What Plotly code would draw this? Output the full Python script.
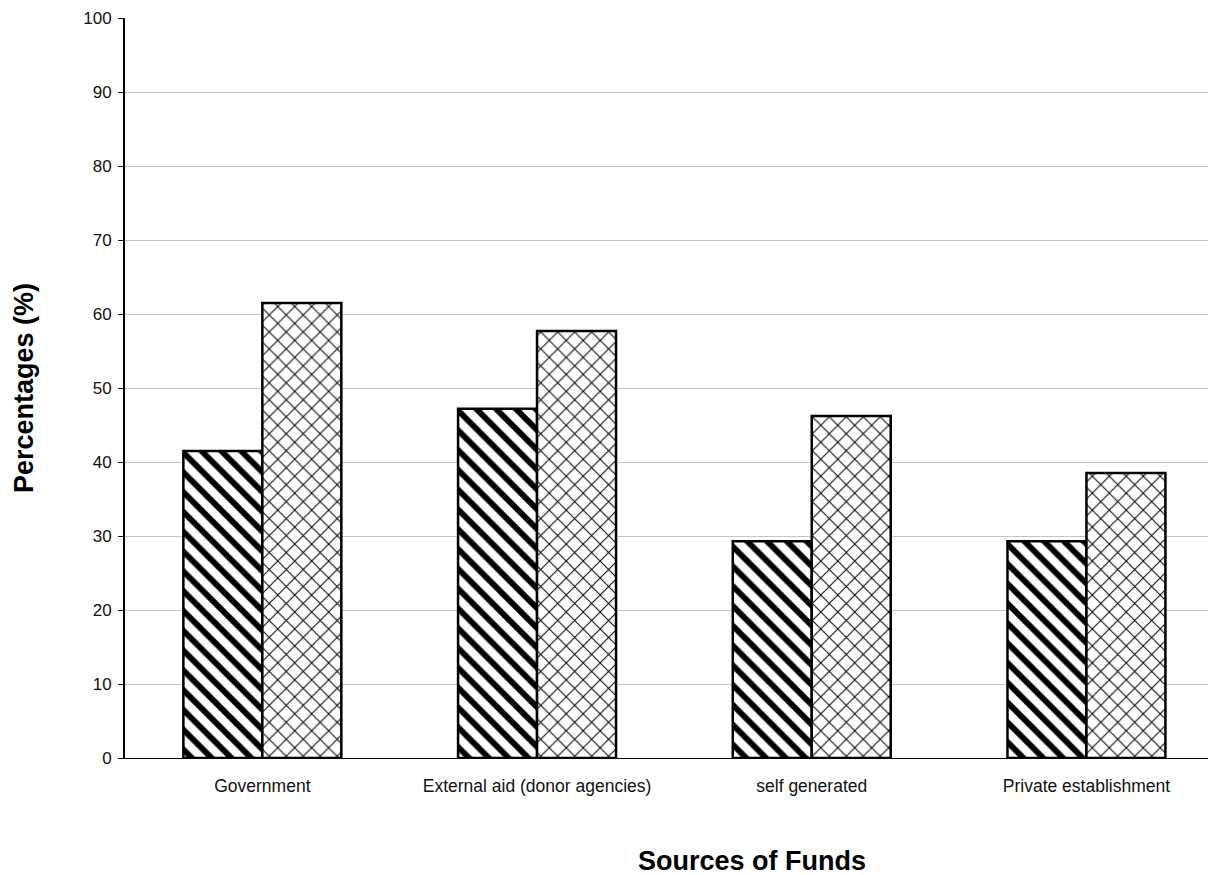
import plotly.graph_objects as go

categories = ["Government", "External aid (donor agencies)", "self generated", "Private establishment"]
series_a = [41.5, 47.2, 29.3, 29.3]
series_b = [61.5, 57.7, 46.2, 38.5]
y_ticks = list(range(0, 101, 10))

# page body has an 8px margin, so the figure is sized to end at the window edge
W, H = 1208, 867
ML, MR, MT = 117, 0, 10
plot_h = 740.0
MB = H - MT - plot_h
plot_w = W - ML - MR
cat_px = 274.7

fig = go.Figure()
fig.add_trace(go.Bar(
    x=categories, y=series_a, name="A",
    marker=dict(color="white", line=dict(color="black", width=2.5),
                pattern=dict(shape="\\", fgcolor="black", fgopacity=1, bgcolor="white",
                             size=14, solidity=0.42)),
))
fig.add_trace(go.Bar(
    x=categories, y=series_b, name="B",
    marker=dict(color="white", line=dict(color="black", width=2.5),
                pattern=dict(shape="x", fgcolor="black", fgopacity=1, bgcolor="white",
                             size=12, solidity=0.16)),
))

font_family = "Liberation Sans, Arial, sans-serif"

fig.update_layout(
    width=W, height=H,
    margin=dict(l=ML, r=MR, t=MT, b=MB),
    paper_bgcolor="white", plot_bgcolor="white",
    barmode="group", bargap=0.425, bargroupgap=0,
    showlegend=False,
    font=dict(family=font_family, size=17, color="black"),
    xaxis=dict(
        type="category",
        range=[-0.5, -0.5 + plot_w / cat_px],
        showgrid=False, showline=True, linecolor="black", linewidth=1.2,
        ticks="", ticklabelstandoff=12,
        tickfont=dict(size=17.5, color="#111"),
        zeroline=False,
    ),
    yaxis=dict(
        range=[0, 100], tickvals=y_ticks,
        showgrid=True, gridcolor="#c4c4c4", gridwidth=1,
        showline=True, linecolor="black", linewidth=2,
        ticks="outside", ticklen=5, tickcolor="black", tickwidth=1,
        ticklabelstandoff=3,
        tickfont=dict(size=17, color="#111"),
        zeroline=False,
    ),
    annotations=[
        dict(text="<b>Percentages (%)</b>", xref="paper", yref="paper",
             x=(24 - 125) / plot_w, y=0.5, xanchor="center", yanchor="middle",
             textangle=-90, showarrow=False, font=dict(size=27, family=font_family, color="black")),
        dict(text="<b>Sources of Funds</b>", xref="paper", yref="paper",
             x=(751.7 - 125) / plot_w, y=(758.3 - 861) / plot_h, xanchor="center", yanchor="middle",
             showarrow=False, font=dict(size=27, family=font_family, color="black")),
    ],
)

fig.write_html("out.html")
